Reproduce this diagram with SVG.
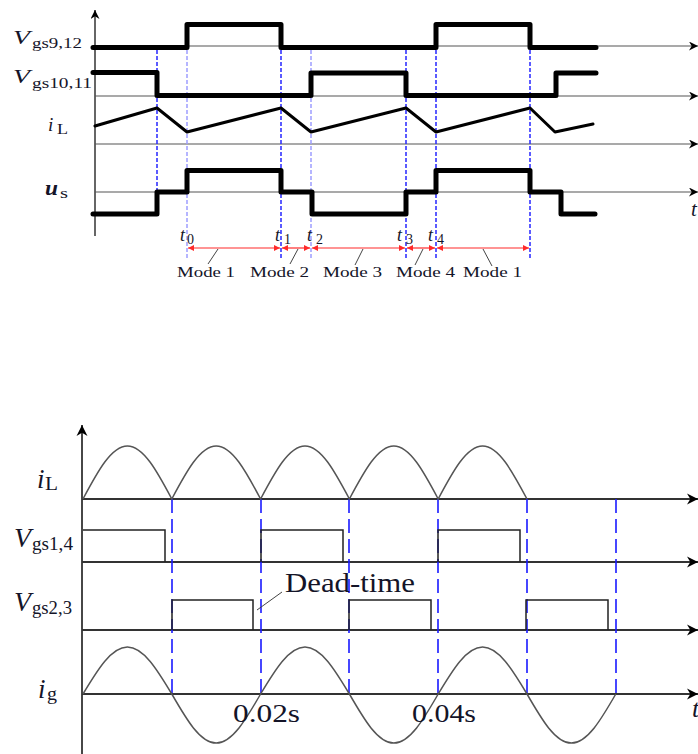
<svg xmlns="http://www.w3.org/2000/svg" width="698" height="754" viewBox="0 0 698 754">
<style>
.lbl{font-family:"Liberation Serif","Times New Roman",serif;fill:#141428}
.it{font-style:italic}
.ax{fill:none;stroke:#333;stroke-width:1.5}
.base{fill:none;stroke:#555;stroke-width:1.2}
.thick{fill:none;stroke:#000;stroke-width:5;stroke-linejoin:round;stroke-linecap:round}
.tri{fill:none;stroke:#000;stroke-width:3;stroke-linejoin:round;stroke-linecap:round}
.d1{fill:none;stroke:#2626ff;stroke-width:1.5;stroke-dasharray:4 2}
.d1l{fill:none;stroke:#9d9dff;stroke-width:1.5;stroke-dasharray:4 2}
.red{fill:none;stroke:#ff2a2a;stroke-width:1.2;marker-start:url(#ra);marker-end:url(#ra)}
.lead{fill:none;stroke:#444;stroke-width:1}
.curve{fill:none;stroke:#555;stroke-width:1.5}
.pulse{fill:none;stroke:#222;stroke-width:1.5}
.d2{fill:none;stroke:#1a1aff;stroke-width:1.6;stroke-dasharray:14 6}
.ax2{fill:none;stroke:#333;stroke-width:1.8}
</style>
<defs>
<marker id="ah" viewBox="0 0 10 10" refX="10" refY="5" markerWidth="9" markerHeight="9" markerUnits="userSpaceOnUse" orient="auto"><path d="M0,0 L10,5 L0,10 L3,5 z" fill="#000"/></marker>
<marker id="ah2" viewBox="0 0 10 10" refX="10" refY="5" markerWidth="11" markerHeight="12" markerUnits="userSpaceOnUse" orient="auto"><path d="M0,0 L10,5 L0,10 L3,5 z" fill="#000"/></marker>
<marker id="ra" viewBox="0 0 10 10" refX="10" refY="5" markerWidth="7" markerHeight="6" markerUnits="userSpaceOnUse" orient="auto-start-reverse"><path d="M0,0 L10,5 L0,10 z" fill="#ff2a2a"/></marker>
</defs>

<!-- ===== Top diagram ===== -->
<g id="top-axes">
<line class="ax" x1="95" y1="236" x2="95" y2="10" marker-end="url(#ah)"/>
<line class="base" x1="95" y1="46" x2="698" y2="46" marker-end="url(#ah)"/>
<line class="base" x1="95" y1="96" x2="698" y2="96" marker-end="url(#ah)"/>
<line class="base" x1="95" y1="144" x2="698" y2="144" stroke="#000" marker-end="url(#ah)"/>
<line class="base" x1="95" y1="192" x2="698" y2="192" marker-end="url(#ah)"/>
</g>

<g id="top-connectors">
<line class="d1" x1="157" y1="50" x2="157" y2="190"/>
<line class="d1l" x1="187" y1="50" x2="187" y2="258"/>
<line class="d1" x1="281" y1="50" x2="281" y2="258"/>
<line class="d1l" x1="311" y1="50" x2="311" y2="258"/>
<line class="d1" x1="406" y1="50" x2="406" y2="258"/>
<line class="d1" x1="436" y1="50" x2="436" y2="258"/>
<line class="d1" x1="530" y1="50" x2="530" y2="258"/>
<line class="red" x1="188" y1="248" x2="280" y2="248"/>
<line class="red" x1="282" y1="248" x2="310" y2="248"/>
<line class="red" x1="312" y1="248" x2="405" y2="248"/>
<line class="red" x1="407" y1="248" x2="435" y2="248"/>
<line class="red" x1="437" y1="248" x2="529" y2="248"/>
<line class="lead" x1="218" y1="249" x2="208" y2="264"/>
<line class="lead" x1="298" y1="249" x2="290" y2="264"/>
<line class="lead" x1="363" y1="249" x2="355" y2="265"/>
<line class="lead" x1="423" y1="249" x2="415" y2="265"/>
<line class="lead" x1="483" y1="249" x2="492" y2="266"/>
</g>

<g id="vgs912">
<path class="thick" d="M93,47.5 H187 V24.5 H281 V47.5 H436 V24.5 H530 V47.5 H596"/>
<text class="lbl it" x="13" y="44" font-size="19" textLength="17" lengthAdjust="spacingAndGlyphs">V</text>
<text class="lbl" x="32" y="48" font-size="15" textLength="50" lengthAdjust="spacingAndGlyphs">gs9,12</text>
</g>
<g id="vgs1011">
<path class="thick" d="M93,72.5 H157 V95.5 H311 V73 H406 V95.5 H556 V73 H596"/>
<text class="lbl it" x="13" y="83" font-size="19" textLength="17" lengthAdjust="spacingAndGlyphs">V</text>
<text class="lbl" x="32" y="88" font-size="15" textLength="60" lengthAdjust="spacingAndGlyphs">gs10,11</text>
</g>
<g id="iL-top">
<polyline class="tri" points="95,126 157,108 187,132 281,108 311,132 406,108 436,132 530,108 555,132 593,124"/>
<text class="lbl it" x="48" y="131" font-size="19">i</text>
<text class="lbl" x="57" y="134" font-size="15" textLength="11" lengthAdjust="spacingAndGlyphs">L</text>
</g>
<g id="us">
<path class="thick" d="M93,214 H157 V192 H187 V170.5 H281 V192 H312 V214 H406 V192 H436 V170.5 H530 V192 H561 V214 H595"/>
<text class="lbl it" x="45" y="195" font-size="21" font-weight="bold" textLength="13" lengthAdjust="spacingAndGlyphs">u</text>
<text class="lbl" x="60" y="198" font-size="14" textLength="8" lengthAdjust="spacingAndGlyphs">s</text>
</g>
<g id="t-top">
<text class="lbl it" x="691" y="216" font-size="21">t</text>
</g>
<g id="time-marks">
<text class="lbl it" x="180" y="241" font-size="18">t</text><text class="lbl" x="187" y="244" font-size="14">0</text>
<text class="lbl it" x="275" y="241" font-size="18">t</text><text class="lbl" x="284" y="244" font-size="14">1</text>
<text class="lbl it" x="307" y="241" font-size="18">t</text><text class="lbl" x="316" y="244" font-size="14">2</text>
<text class="lbl it" x="397" y="241" font-size="18">t</text><text class="lbl" x="406" y="244" font-size="14">3</text>
<text class="lbl it" x="428" y="241" font-size="18">t</text><text class="lbl" x="437" y="244" font-size="14">4</text>
</g>
<g id="modes">
<text class="lbl" x="177" y="277" font-size="15" textLength="58" lengthAdjust="spacingAndGlyphs">Mode 1</text>
<text class="lbl" x="250" y="277" font-size="15" textLength="59" lengthAdjust="spacingAndGlyphs">Mode 2</text>
<text class="lbl" x="323" y="277" font-size="15" textLength="59" lengthAdjust="spacingAndGlyphs">Mode 3</text>
<text class="lbl" x="396" y="277" font-size="15" textLength="59" lengthAdjust="spacingAndGlyphs">Mode 4</text>
<text class="lbl" x="463" y="277" font-size="15" textLength="59" lengthAdjust="spacingAndGlyphs">Mode 1</text>
</g>

<!-- ===== Bottom diagram ===== -->
<g id="bottom-axes">
<line class="ax2" x1="82" y1="754" x2="82" y2="425" marker-end="url(#ah2)"/>
<line class="ax2" x1="82" y1="499" x2="698" y2="499" marker-end="url(#ah2)"/>
<line class="ax2" x1="82" y1="562" x2="698" y2="562" marker-end="url(#ah2)"/>
<line class="ax2" x1="82" y1="630" x2="698" y2="630" marker-end="url(#ah2)"/>
<line class="ax2" x1="82" y1="694" x2="698" y2="694" marker-end="url(#ah2)"/>
</g>
<g id="bottom-connectors">
<line class="d2" x1="172" y1="499" x2="172" y2="696"/>
<line class="d2" x1="261" y1="499" x2="261" y2="696"/>
<line class="d2" x1="349" y1="499" x2="349" y2="696"/>
<line class="d2" x1="438" y1="499" x2="438" y2="696"/>
<line class="d2" x1="527" y1="499" x2="527" y2="696"/>
<line class="d2" x1="616" y1="499" x2="616" y2="696"/>
<line class="lead" x1="282" y1="592" x2="257" y2="610"/>
</g>
<g id="iL-bottom">
<path class="curve" d="M83,499 c14.48,-27.15 28.33,-53 44.4,-53 c16.07,0 29.92,25.85 44.4,53 c14.48,-27.15 28.33,-53 44.4,-53 c16.07,0 29.92,25.85 44.4,53 c14.48,-27.15 28.33,-53 44.4,-53 c16.07,0 29.92,25.85 44.4,53 c14.48,-27.15 28.33,-53 44.4,-53 c16.07,0 29.92,25.85 44.4,53 c14.48,-27.15 28.33,-53 44.4,-53 c16.07,0 29.92,25.85 44.4,53"/>
<text class="lbl it" x="37" y="488" font-size="27">i</text>
<text class="lbl" x="45" y="490" font-size="18" textLength="13" lengthAdjust="spacingAndGlyphs">L</text>
</g>
<g id="vgs14">
<path class="pulse" d="M83,530 H165 V562 M261,562 V530 H343 V562 M438,562 V530 H520 V562"/>
<text class="lbl it" x="14" y="547" font-size="28">V</text>
<text class="lbl" x="32" y="550" font-size="18" textLength="41" lengthAdjust="spacingAndGlyphs">gs1,4</text>
</g>
<g id="vgs23">
<path class="pulse" d="M172,630 V600 H253 V630 M349,630 V600 H431 V630 M526,630 V600 H608 V630"/>
<text class="lbl it" x="14" y="611" font-size="28">V</text>
<text class="lbl" x="32" y="614" font-size="18" textLength="40" lengthAdjust="spacingAndGlyphs">gs2,3</text>
</g>
<g id="ig">
<path class="curve" d="M83,694 c14.48,-24.08 28.33,-47 44.4,-47 c16.07,0 29.92,22.92 44.4,47 c14.48,25.1 28.33,49 44.4,49 c16.07,0 29.92,-23.9 44.4,-49 c14.48,-24.08 28.33,-47 44.4,-47 c16.07,0 29.92,22.92 44.4,47 c14.48,25.1 28.33,49 44.4,49 c16.07,0 29.92,-23.9 44.4,-49 c14.48,-24.08 28.33,-47 44.4,-47 c16.07,0 29.92,22.92 44.4,47 c14.48,25.1 28.33,49 44.4,49 c16.07,0 29.92,-23.9 44.4,-49"/>
<text class="lbl it" x="38" y="698" font-size="27">i</text>
<text class="lbl" x="47" y="700" font-size="18" textLength="10" lengthAdjust="spacingAndGlyphs">g</text>
</g>
<g id="annotations">
<text class="lbl" x="285" y="592" font-size="27" textLength="130" lengthAdjust="spacingAndGlyphs">Dead-time</text>
<text class="lbl" x="233" y="722" font-size="26" textLength="67" lengthAdjust="spacingAndGlyphs">0.02s</text>
<text class="lbl" x="412" y="722" font-size="26" textLength="64" lengthAdjust="spacingAndGlyphs">0.04s</text>
<text class="lbl it" x="692" y="717" font-size="26">t</text>
</g>
</svg>
